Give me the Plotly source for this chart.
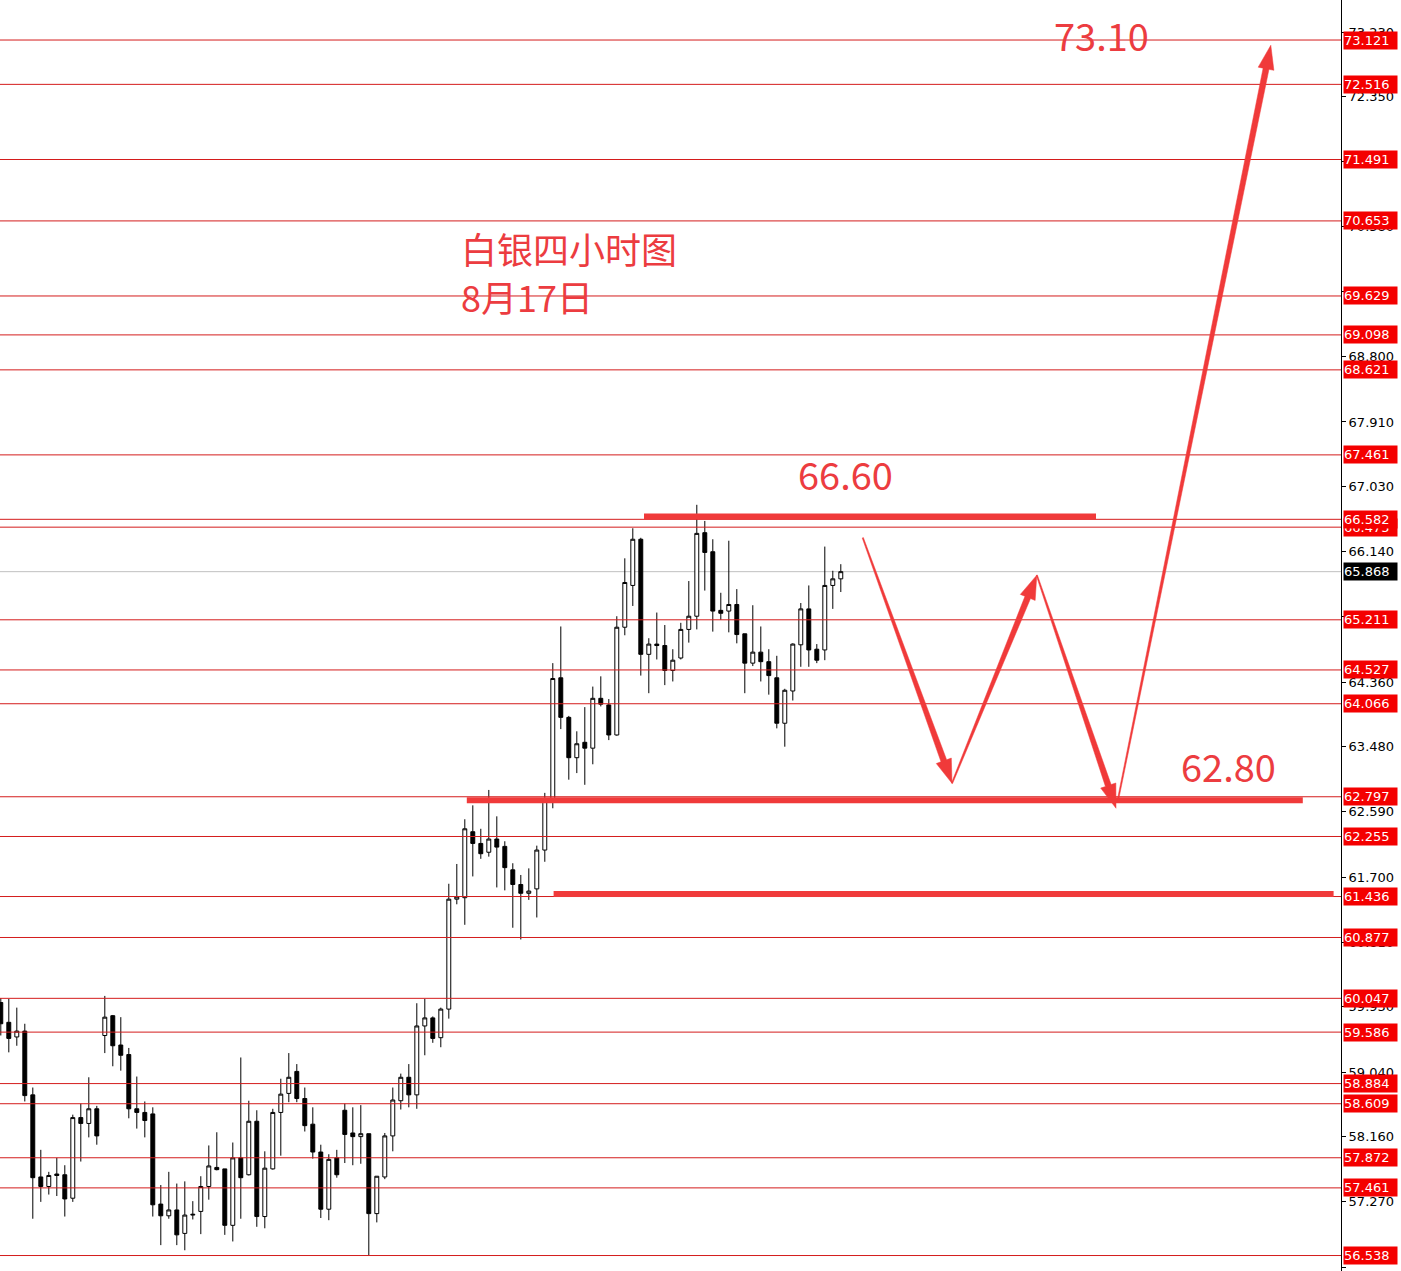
"""Silver 4H candlestick chart with support/resistance levels and arrows."""
import math

import plotly.graph_objects as go

# ── candle data (4h bars) ─────────────────────────────────────────────────────

opens = [
    59.99, 59.72, 59.52, 59.60, 58.73, 57.61, 57.48, 57.65, 57.64, 57.32,
    58.42, 58.34, 58.54, 59.54, 59.81, 59.41, 59.28, 58.54, 58.49, 58.47,
    57.24, 57.08, 57.16, 56.84, 57.09, 57.14, 57.48, 57.74, 57.72, 56.95,
    57.87, 57.64, 58.37, 57.07, 57.72, 58.49, 58.75, 59.05, 58.68, 58.33,
    57.95, 57.17, 57.87, 58.52, 58.21, 58.16, 58.20, 57.11, 57.61, 58.17,
    58.65, 58.97, 58.73, 59.67, 59.78, 59.51, 59.90, 61.40, 61.42, 62.32,
    62.16, 62.04, 62.22, 62.12, 61.80, 61.60, 61.48, 61.54, 62.07, 62.76,
    64.42, 63.88, 63.33, 63.54, 63.46, 64.14, 64.05, 63.64, 65.11, 65.68,
    66.31, 64.74, 64.88, 64.86, 64.52, 64.69, 65.08, 65.26, 66.40, 66.14,
    65.34, 65.33, 65.42, 65.02, 64.62, 64.77, 64.64, 64.42, 63.80, 64.24,
    64.87, 65.36, 64.81, 64.80, 65.68, 65.77,
]
highs = [
    60.05, 60.04, 59.92, 59.70, 58.83, 57.98, 57.68, 57.87, 57.77, 58.46,
    58.61, 58.97, 58.58, 60.08, 59.82, 59.79, 59.37, 58.98, 58.64, 58.56,
    57.50, 57.68, 57.52, 57.55, 57.28, 57.62, 58.04, 58.22, 57.72, 58.08,
    59.24, 58.65, 58.52, 57.96, 58.54, 58.95, 59.30, 59.15, 58.83, 58.56,
    58.05, 57.92, 57.98, 58.61, 58.56, 58.59, 58.20, 57.62, 58.21, 58.83,
    59.02, 59.15, 59.98, 60.04, 59.80, 59.92, 61.61, 61.88, 62.49, 62.68,
    62.36, 62.89, 62.53, 62.19, 61.89, 61.73, 61.82, 62.13, 62.85, 64.62,
    65.12, 63.90, 63.69, 64.02, 64.30, 64.44, 64.13, 65.26, 66.05, 66.46,
    66.33, 64.96, 65.31, 65.14, 64.81, 65.17, 65.74, 66.78, 66.56, 66.31,
    65.58, 66.29, 65.63, 65.02, 65.41, 65.12, 64.81, 64.72, 64.27, 64.89,
    65.44, 65.68, 64.88, 66.21, 65.88, 65.97,
]
lows = [
    59.54, 59.31, 59.40, 58.64, 57.04, 57.27, 57.37, 57.35, 57.07, 57.27,
    57.82, 58.15, 58.05, 59.30, 59.12, 59.06, 58.41, 58.27, 58.15, 57.07,
    56.68, 57.04, 56.68, 56.61, 57.03, 56.83, 57.30, 57.70, 56.82, 56.73,
    57.04, 57.63, 56.93, 56.91, 57.71, 57.90, 58.63, 58.63, 58.23, 57.86,
    57.05, 57.02, 57.60, 57.80, 57.77, 57.79, 56.54, 56.99, 57.58, 57.96,
    58.53, 58.56, 58.54, 59.27, 59.44, 59.38, 59.77, 61.33, 61.05, 61.71,
    61.95, 61.98, 61.56, 61.52, 61.01, 60.85, 61.39, 61.15, 61.91, 62.64,
    63.72, 63.03, 63.12, 62.96, 63.24, 64.03, 63.57, 63.63, 65.00, 65.40,
    64.45, 64.21, 64.67, 64.32, 64.37, 64.67, 64.90, 65.08, 65.61, 65.05,
    65.21, 65.04, 64.89, 64.21, 64.58, 64.37, 64.19, 63.73, 63.48, 64.11,
    64.57, 64.57, 64.62, 64.66, 65.36, 65.59,
]
closes = [
    59.70, 59.50, 59.60, 58.72, 57.60, 57.48, 57.63, 57.63, 57.31, 58.42,
    58.34, 58.54, 58.17, 59.79, 59.40, 59.27, 58.54, 58.49, 58.38, 57.23,
    57.08, 57.16, 56.82, 57.09, 57.10, 57.48, 57.76, 57.71, 56.95, 57.87,
    57.60, 58.37, 57.07, 57.73, 58.49, 58.74, 58.97, 58.68, 58.31, 57.95,
    57.17, 57.85, 57.64, 58.19, 58.16, 58.20, 57.11, 57.62, 58.17, 58.66,
    58.97, 58.73, 59.67, 59.78, 59.50, 59.90, 61.40, 61.43, 62.36, 62.16,
    62.02, 62.22, 62.11, 61.83, 61.60, 61.48, 61.51, 62.07, 62.76, 64.41,
    63.88, 63.33, 63.52, 63.46, 64.14, 64.06, 63.64, 65.11, 65.72, 66.31,
    64.74, 64.88, 64.86, 64.52, 64.66, 65.08, 65.26, 66.39, 66.13, 65.33,
    65.30, 65.42, 65.01, 64.62, 64.77, 64.64, 64.45, 63.80, 64.25, 64.88,
    65.36, 64.80, 64.66, 65.68, 65.77, 65.868,
]
bars = list(range(len(closes)))

# ── levels and annotations ────────────────────────────────────────────────────

level_prices = [
    73.121, 72.516, 71.491, 70.653, 69.629, 69.098, 68.621, 67.461,
    66.475, 66.582, 65.211, 64.527, 64.066, 62.797, 62.255, 61.436,
    60.877, 60.047, 59.586, 58.884, 58.609, 57.872, 57.461, 56.538,
]
last_price = 65.868

tick_prices = [
    73.230, 72.350, 71.460, 70.580, 69.690, 68.800, 67.910, 67.030, 66.140,
    65.250, 64.360, 63.480, 62.590, 61.700, 60.810, 59.930, 59.040, 58.160,
    57.270, 56.380,
]

# hand-drawn thick lines: (bar start, bar end, price)
marker_lines = [
    (80.4, 136.9, 66.62),
    (58.25, 162.75, 62.75),
    (69.1, 166.6, 61.47),
]

# arrows: (bar start, price start, bar end, price end)
arrows = [
    (107.75, 66.33, 118.9, 62.98),
    (118.9, 62.98, 129.5, 65.82),
    (129.5, 65.82, 139.4, 62.64),
    (139.6, 62.73, 158.75, 73.05),
]

# big red labels: (text, bar, price)
target_labels = [
    ("73.10", 137.6, 73.20),
    ("66.60", 105.6, 67.21),
    ("62.80", 153.5, 63.23),
]
title_lines = [("白银四小时图", 57.3, 70.29), ("8月17日", 57.3, 69.63)]

# ── figure ────────────────────────────────────────────────────────────────────

W, H = 1401, 1271
PLOT_W = 1341
X_RANGE = [-0.1, -0.1 + PLOT_W / 8.0]
Y_RANGE = [56.327, 73.667]
PX_X = PLOT_W / (X_RANGE[1] - X_RANGE[0])
PX_Y = H / (Y_RANGE[1] - Y_RANGE[0])

RED_THIN = "#d41c1c"
RED_PEN = "#f03a3a"
RED_TEXT = "#ec3c40"

fig = go.Figure()
fig.add_trace(
    go.Candlestick(
        x=bars,
        open=opens,
        high=highs,
        low=lows,
        close=closes,
        increasing=dict(line=dict(color="black", width=1), fillcolor="white"),
        decreasing=dict(line=dict(color="black", width=1), fillcolor="black"),
        showlegend=False,
        hoverinfo="skip",
    )
)

shapes = []
annotations = []

# current price line
shapes.append(dict(type="line", xref="paper", x0=0, x1=1, yref="y",
                   y0=last_price, y1=last_price,
                   line=dict(color="#c0c0c0", width=1), layer="below"))

for lv in level_prices:
    shapes.append(dict(type="line", xref="paper", x0=0, x1=1, yref="y",
                       y0=lv, y1=lv, line=dict(color=RED_THIN, width=1)))

for x0, x1, p in marker_lines:
    shapes.append(dict(type="line", xref="x", yref="y", x0=x0, x1=x1, y0=p, y1=p,
                       line=dict(color=RED_PEN, width=6)))


def arrow_path(x0, y0, x1, y1, w_end=3.0, head_len=24.0, head_w=8.0):
    # work in pixels so the taper is perpendicular on screen
    ax, ay = x0 * PX_X, -y0 * PX_Y
    bx, by = x1 * PX_X, -y1 * PX_Y
    dx, dy = bx - ax, by - ay
    length = math.hypot(dx, dy)
    ux, uy = dx / length, dy / length
    nx, ny = -uy, ux
    nkx, nky = bx - ux * head_len, by - uy * head_len
    pts = [
        (ax + nx * 0.6, ay + ny * 0.6),
        (nkx + nx * w_end, nky + ny * w_end),
        (nkx + nx * head_w, nky + ny * head_w),
        (bx, by),
        (nkx - nx * head_w, nky - ny * head_w),
        (nkx - nx * w_end, nky - ny * w_end),
        (ax - nx * 0.6, ay - ny * 0.6),
    ]
    coords = [(px / PX_X, -py / PX_Y) for px, py in pts]
    return "M " + " L ".join(f"{cx:.4f},{cy:.4f}" for cx, cy in coords) + " Z"


for x0, y0, x1, y1 in arrows:
    shapes.append(dict(type="path", xref="x", yref="y", path=arrow_path(x0, y0, x1, y1),
                       fillcolor=RED_PEN, line=dict(color=RED_PEN, width=0.5)))

for text, bx, p in target_labels:
    annotations.append(dict(x=bx, y=p, xref="x", yref="y", text=text, showarrow=False,
                            font=dict(family="Noto Sans CJK SC", size=38, color=RED_TEXT)))

for text, bx, p in title_lines:
    annotations.append(dict(x=bx, y=p, xref="x", yref="y", text=text, showarrow=False,
                            xanchor="left",
                            font=dict(family="Noto Sans CJK SC", size=36, color=RED_TEXT)))

# price tags on the right axis
for lv in level_prices:
    annotations.append(dict(x=1, y=lv, xref="paper", yref="y", text=f"{lv:.3f}",
                            showarrow=False, xanchor="left", xshift=2, align="left",
                            bgcolor="#f40000", borderpad=0, width=53, height=17,
                            font=dict(family="DejaVu Sans", size=13, color="white")))
annotations.append(dict(x=1, y=last_price, xref="paper", yref="y", text=f"{last_price:.3f}",
                        showarrow=False, xanchor="left", xshift=2, align="left",
                        bgcolor="black", borderpad=0, width=53, height=17,
                        font=dict(family="DejaVu Sans", size=13, color="white")))

fig.update_layout(
    width=W,
    height=H,
    margin=dict(l=0, r=W - PLOT_W, t=0, b=0),
    paper_bgcolor="white",
    plot_bgcolor="white",
    shapes=shapes,
    annotations=annotations,
    showlegend=False,
    xaxis=dict(range=X_RANGE, visible=False, rangeslider=dict(visible=False),
               showgrid=False, zeroline=False),
    yaxis=dict(
        range=Y_RANGE,
        side="right",
        showgrid=False,
        zeroline=False,
        showline=True,
        linecolor="black",
        linewidth=1,
        ticks="outside",
        ticklen=4,
        tickcolor="black",
        tickvals=tick_prices,
        ticktext=[f"{t:.3f}" for t in tick_prices],
        tickfont=dict(family="DejaVu Sans", size=13, color="black"),
    ),
)

# the page body has a default 8px margin; drop it so the chart fills the window
fig.write_html(
    "out.html",
    config={"displayModeBar": False},
    post_script="document.body.style.margin = '0';",
)
